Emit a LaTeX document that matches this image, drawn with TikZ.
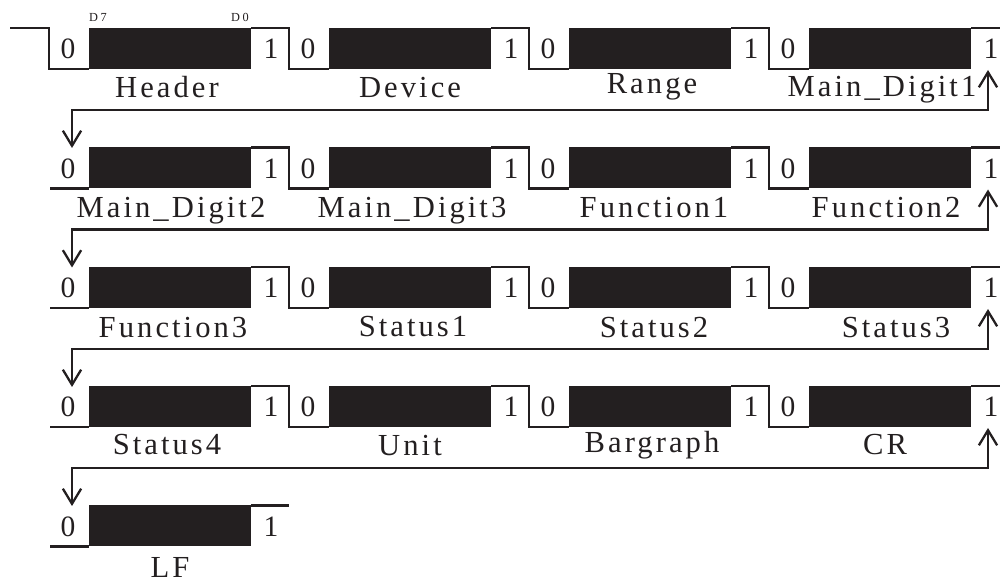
\documentclass[tikz,border=0pt]{standalone}
\usepackage{fontspec}
\setmainfont{Liberation Serif}
\usetikzlibrary{arrows.meta}
\definecolor{ink}{HTML}{231F20}
\tikzset{
  wave/.style={draw=ink,line width=0.65pt},
  bit/.style={text=ink,font=\fontsize{8.4}{8}\selectfont,anchor=base,inner sep=0pt},
  lab/.style={text=ink,font=\fontsize{8.7}{9}\selectfont\addfontfeature{LetterSpace=10},anchor=base,inner sep=0pt},
  tag/.style={text=ink,font=\fontsize{3.5}{3.5}\selectfont\addfontfeature{LetterSpace=20},inner sep=0pt},
  ret/.style={draw=ink,line width=0.65pt,{Straight Barb[length=4.3pt,width=5.2pt]}-{Straight Barb[length=4.3pt,width=5.2pt]}}
}
\begin{document}
\begin{tikzpicture}[x=0.01cm,y=-0.01cm]
\useasboundingbox (0,0) rectangle (1000,583);
\foreach \y [count=\r] in {28,147.5,267,386}{
  \foreach \x in {0,240,480,720}{
    \fill[ink] ({89+\x},\y) rectangle ({251+\x},{\y+41});
    \node[bit] (zero\r-\x) at ({68+\x},{\y+31}) {0};
    \node[bit] (one\r-\x) at ({271+\x},{\y+31}) {1};
  }
  \foreach \x in {240,480,720}
    \draw[wave] ({11+\x},\y) -- ({49+\x},\y) -- ({49+\x},{\y+41}) -- ({89+\x},{\y+41});
  \draw[wave] (971,\y) -- (1000,\y);
  \coordinate (end\r) at (988,{\y+42});
  \coordinate (turn\r) at (72,{\y+82});
  \coordinate (start\r) at (72,{\y+120});
  \draw[ret] (end\r) |- (turn\r) -- (start\r);
}
\draw[wave] (10,28) -- (49,28) -- (49,69) -- (89,69);
\foreach \y in {147.5,267,386,505.5}
  \draw[wave] (50,{\y+41}) -- (89,{\y+41});
\fill[ink] (89,505.5) rectangle (251,546.5);
\draw[wave] (251,505.5) -- (289,505.5);
\node[bit] (zero5) at (68,536.5) {0};
\node[bit] (one5) at (271,536.5) {1};
\node[tag] (d7) at (98,17) {D7};
\node[tag] (d0) at (240,17) {D0};
\foreach \cx/\y/\txt [count=\i] in {167/98/Header, 410/98/Device, 652/94/Range, 882/97/Main\_Digit1,
    171/218/Main\_Digit2, 412/218/Main\_Digit3, 654/218/Function1, 886/218/Function2,
    173/338/Function3, 413/337/Status1, 654/338/Status2, 896/338/Status3,
    167/455/Status4, 410/456/Unit, 652/453/Bargraph, 885/455/CR, 170/578/LF}
  \node[lab] (lab\i) at (\cx,\y) {\txt};
\end{tikzpicture}
\end{document}
